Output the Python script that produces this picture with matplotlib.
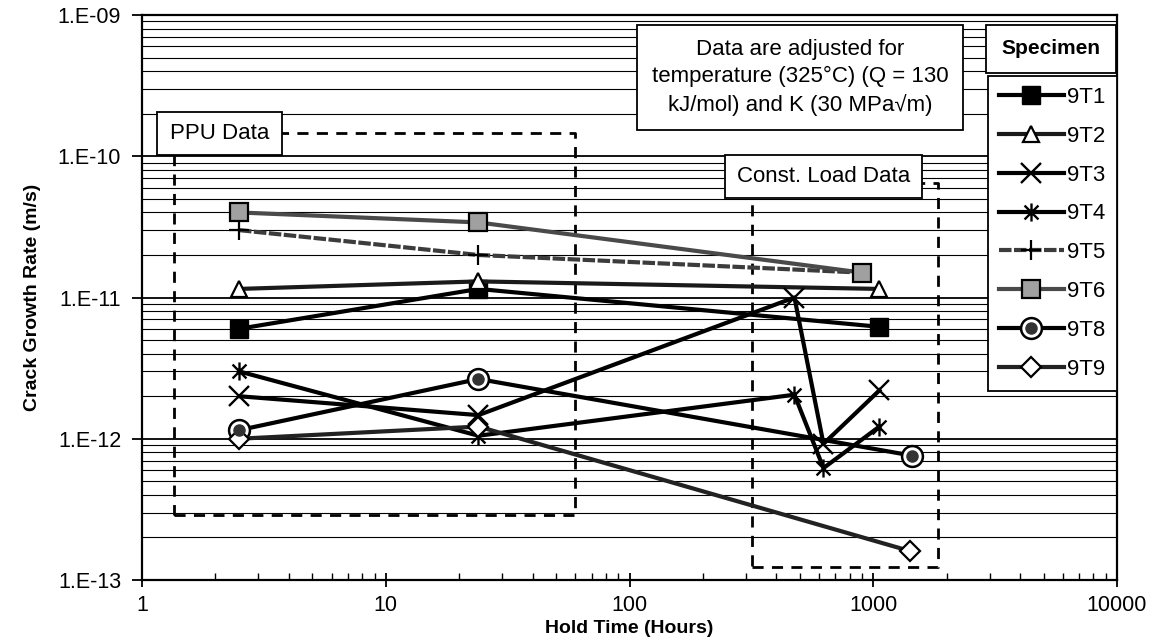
import math
import matplotlib
matplotlib.use("Agg")
import matplotlib.pyplot as plt
from matplotlib.path import Path
from matplotlib.patches import Rectangle
from matplotlib.ticker import FixedLocator, FuncFormatter, LogLocator, NullFormatter

# ----------------------------------------------
# data (hours, m/s)
# ----------------------------------------------
t1_x = [2.5, 24, 1060]
t1_y = [6.0e-12, 1.15e-11, 6.2e-12]
t2_x = [2.5, 24, 1060]
t2_y = [1.15e-11, 1.3e-11, 1.15e-11]
t3_x = [2.5, 24, 475, 625, 1060]
t3_y = [2.0e-12, 1.47e-12, 1.0e-11, 9.2e-13, 2.2e-12]
t4_x = [2.5, 24, 475, 625, 1060]
t4_y = [3.0e-12, 1.05e-12, 2.05e-12, 6.2e-13, 1.22e-12]
t5_x = [2.5, 24, 900]
t5_y = [3.0e-11, 2.0e-11, 1.5e-11]
t6_x = [2.5, 24, 900]
t6_y = [4.0e-11, 3.4e-11, 1.5e-11]
t8_x = [2.5, 24, 1440]
t8_y = [1.15e-12, 2.65e-12, 7.6e-13]
t9_x = [2.5, 24, 1420]
t9_y = [1.0e-12, 1.22e-12, 1.6e-13]

labels = ["9T1", "9T2", "9T3", "9T4", "9T5", "9T6", "9T8", "9T9"]

ppu_box = [1.35, 60, 2.9e-13, 1.45e-10]        # x0, x1, y0, y1
const_box = [318, 1850, 1.24e-13, 6.5e-11]

W, H = 1157, 640
plt.rcParams["font.family"] = ["Liberation Sans", "DejaVu Sans"]

# asterisk marker: X plus vertical bar
ast = Path([(-1, -1), (1, 1), (-1, 1), (1, -1), (0, -1.3), (0, 1.3)],
           [Path.MOVETO, Path.LINETO, Path.MOVETO, Path.LINETO, Path.MOVETO, Path.LINETO])

fig = plt.figure(figsize=(W / 100, H / 100), dpi=100)
ax = fig.add_axes([142 / W, 1 - 580 / H, 975 / W, 565 / H])

ax.set_xscale("log")
ax.set_yscale("log")
ax.set_xlim(1, 10000)
ax.set_ylim(1e-13, 1e-9)

# horizontal grid (major + minor)
ax.yaxis.set_minor_locator(LogLocator(base=10, subs=range(2, 10)))
ax.yaxis.set_minor_formatter(NullFormatter())
ax.grid(True, which="major", axis="y", color="black", lw=1.3)
ax.grid(True, which="minor", axis="y", color="black", lw=0.8)
ax.set_axisbelow(True)

lw = 3.0
series = [
    (t1_x, t1_y, dict(color="black", marker="s", ms=13, mfc="black", mec="black")),
    (t2_x, t2_y, dict(color="#1a1a1a", marker="^", ms=12, mfc="white", mec="black", mew=1.6)),
    (t3_x, t3_y, dict(color="black", marker="x", ms=15, mec="black", mew=1.7)),
    (t4_x, t4_y, dict(color="black", marker=ast, ms=13, mfc="none", mec="black", mew=1.7)),
    (t5_x, t5_y, dict(color="#3c3c3c", marker="+", ms=15, mec="black", mew=1.6, ls=(0, (3, 0.6)))),
    (t6_x, t6_y, dict(color="#4a4a4a", marker="s", ms=13, mfc="#a0a0a0", mec="black", mew=1.6)),
    (t8_x, t8_y, dict(color="black", marker="o", ms=15, mfc="white", mec="black", mew=1.8)),
    (t9_x, t9_y, dict(color="#222222", marker="D", ms=10, mfc="white", mec="black", mew=1.6)),
]
handles = []
for (xs, ys, kw), lab in zip(series, labels):
    h, = ax.plot(xs, ys, lw=lw, label=lab, zorder=4, **kw)
    handles.append(h)

# dark centre of the 9T8 circles
dot, = ax.plot(t8_x, t8_y, ls="none", marker="o", ms=8, mfc="#333333", mec="#333333", zorder=5)
handles[6] = (handles[6], dot)

# dashed data-group boxes
for x0, x1, y0, y1 in [ppu_box, const_box]:
    ax.plot([x0, x1, x1, x0, x0], [y0, y0, y1, y1, y0], color="black",
            lw=2, ls=(0, (4, 3)), zorder=3)

# ticks
ax.xaxis.set_major_locator(FixedLocator([1, 10, 100, 1000, 10000]))
ax.xaxis.set_major_formatter(FuncFormatter(lambda v, p: "%d" % round(v)))
ax.xaxis.set_minor_locator(LogLocator(base=10, subs=range(2, 10)))
ax.xaxis.set_minor_formatter(NullFormatter())
ax.yaxis.set_major_locator(FixedLocator([1e-13, 1e-12, 1e-11, 1e-10, 1e-9]))
ax.yaxis.set_major_formatter(FuncFormatter(lambda v, p: "1.E-%02d" % round(-math.log10(v))))
ax.tick_params(axis="x", which="major", direction="inout", length=10, width=1.3, labelsize=15.5, pad=6)
ax.tick_params(axis="x", which="minor", direction="in", length=5, width=1.0)
ax.tick_params(axis="y", which="major", direction="out", length=7, width=1.3, labelsize=15.5, pad=8)
ax.tick_params(axis="y", which="minor", length=0)
for s in ax.spines.values():
    s.set_linewidth(1.6)

ax.set_xlabel("Hold Time (Hours)", fontsize=14, fontweight="bold", labelpad=3)
ax.set_ylabel("Crack Growth Rate (m/s)", fontsize=14, fontweight="bold", labelpad=12)

# legend
leg = ax.legend(handles=handles, labels=labels, loc="upper right", bbox_to_anchor=(0.9995, 0.892),
                prop={"size": 16}, frameon=True, fancybox=False, edgecolor="black",
                framealpha=1, handlelength=2.9, labelspacing=0.8, borderpad=0.5,
                handletextpad=0.15, borderaxespad=0)
leg.get_frame().set_linewidth(1.3)
leg.set_zorder(6)


def boxed(x0, y0, x1, y1, text, **kw):
    # rectangle in figure pixels (from top-left) with centred text
    fig.patches.append(Rectangle((x0 / W, 1 - y1 / H), (x1 - x0) / W, (y1 - y0) / H,
                                 transform=fig.transFigure, fc="white", ec="black",
                                 lw=1.3, zorder=7))
    fig.text((x0 + x1) / 2 / W, 1 - (y0 + y1) / 2 / H, text, ha="center", va="center",
             zorder=8, **kw)


boxed(986, 25, 1116, 73, "Specimen", fontsize=15, fontweight="bold")
boxed(637, 25, 963, 130,
      "Data are adjusted for\ntemperature (325\u00b0C) (Q = 130\nkJ/mol) and K (30 MPa\u221am)",
      fontsize=16, linespacing=1.4)
boxed(157, 112, 282, 155, "PPU Data", fontsize=16)
boxed(725, 155, 922, 198, "Const. Load Data", fontsize=16)

fig.savefig("out.png", dpi=100)
